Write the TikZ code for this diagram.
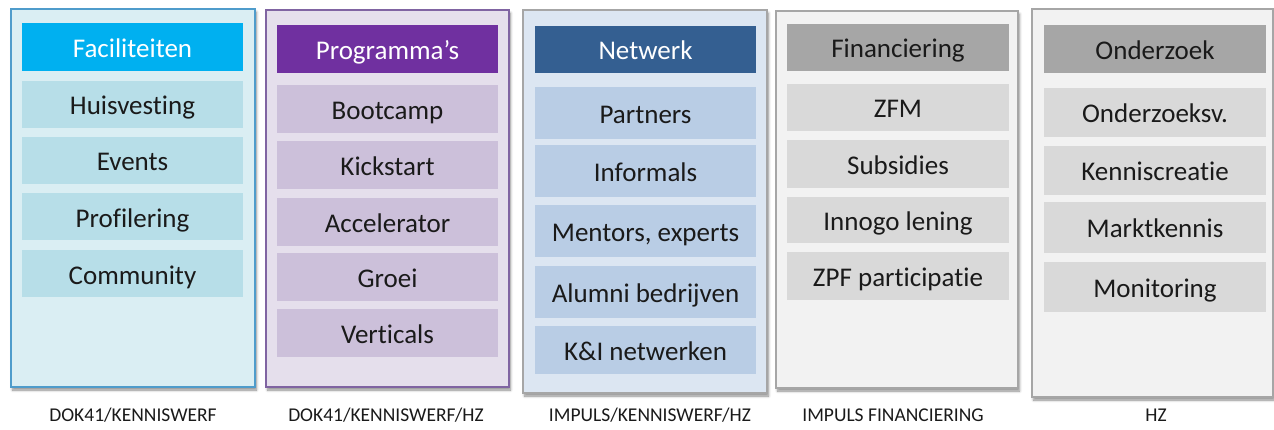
\documentclass[tikz,border=0pt]{standalone}
\usepackage{fontspec}
\setmainfont{Carlito}[Ligatures={NoCommon}]
\usetikzlibrary{shadows,shadows.blur}
\definecolor{c1bg}{HTML}{DAEEF3}
\definecolor{c1bd}{HTML}{4F9CCB}
\definecolor{c1hd}{HTML}{00B0F0}
\definecolor{c1it}{HTML}{B7DEE8}
\definecolor{c2bg}{HTML}{E5DFEC}
\definecolor{c2bd}{HTML}{8064A2}
\definecolor{c2hd}{HTML}{7030A0}
\definecolor{c2it}{HTML}{CCC0DA}
\definecolor{c3bg}{HTML}{DCE6F2}
\definecolor{c3hd}{HTML}{345F91}
\definecolor{c3it}{HTML}{B9CDE5}
\definecolor{c4bg}{HTML}{F2F2F2}
\definecolor{c4hd}{HTML}{A6A6A6}
\definecolor{c4it}{HTML}{D9D9D9}
\definecolor{gbd}{HTML}{A6A6A6}
\definecolor{txt}{HTML}{1A1A1A}
\tikzset{
  outerbox/.style={draw=#1, line width=1.5pt, inner sep=0pt,
    blur shadow={shadow xshift=1.5pt, shadow yshift=-3pt, shadow blur steps=6, shadow blur radius=2.5pt, shadow opacity=45}},
  headbox/.style={fill=#1, inner sep=0pt, minimum width=221pt, minimum height=48pt,
    text height=21pt, text depth=0pt, font=\fontsize{27}{30}\selectfont},
  itembox/.style={fill=#1, inner sep=0pt, minimum width=221pt, minimum height=47pt,
    text height=21pt, text depth=0pt, text=txt, font=\fontsize{27}{30}\selectfont},
  lbl/.style={text=txt, inner sep=0pt, font=\fontsize{19.5}{22}\selectfont},
}
\begin{document}
\begin{tikzpicture}[x=1pt,y=-1pt]
\useasboundingbox (0,0) rectangle (1274,430);
% column 1
\node[outerbox=c1bd, fill=c1bg, minimum width=244pt, minimum height=378pt] (o1) at (133,198) {};
\node[headbox=c1hd, text=white] (h1) at (132.5,47) {Faciliteiten};
\node[itembox=c1it] (a1) at (132.5,104.5) {Huisvesting};
\node[itembox=c1it] (a2) at (132.5,160.5) {Events};
\node[itembox=c1it] (a3) at (132.5,217) {Profilering};
\node[itembox=c1it] (a4) at (132.5,273.5) {Community};
\node[lbl] (l1) at (133,415) {DOK41/KENNISWERF};
% column 2
\node[outerbox=c2bd, fill=c2bg, minimum width=243pt, minimum height=377pt] (o2) at (387.5,198.5) {};
\node[headbox=c2hd, text=white] (h2) at (387.5,49) {Programma’s};
\node[itembox=c2it, minimum height=48pt] (b1) at (387.5,109) {Bootcamp};
\node[itembox=c2it, minimum height=48pt] (b2) at (387.5,165) {Kickstart};
\node[itembox=c2it, minimum height=48pt] (b3) at (387.5,222) {Accelerator};
\node[itembox=c2it, minimum height=48pt] (b4) at (387.5,277) {Groei};
\node[itembox=c2it, minimum height=48pt] (b5) at (387.5,332.5) {Verticals};
\node[lbl] (l2) at (386,415) {DOK41/KENNISWERF/HZ};
% column 3
\node[outerbox=gbd, fill=c3bg, minimum width=244pt, minimum height=383pt] (o3) at (645,201.5) {};
\node[headbox=c3hd, text=white, minimum height=47pt] (h3) at (645.5,49.5) {Netwerk};
\node[itembox=c3it, minimum height=52pt] (c1) at (645.5,113) {Partners};
\node[itembox=c3it, minimum height=52pt] (c2) at (645.5,171) {Informals};
\node[itembox=c3it, minimum height=52pt] (c3) at (645.5,231) {Mentors, experts};
\node[itembox=c3it, minimum height=52pt] (c4) at (645.5,292) {Alumni bedrijven};
\node[itembox=c3it, minimum height=48pt] (c5) at (645.5,349.5) {K\&I netwerken};
\node[lbl] (l3) at (650,415) {IMPULS/KENNISWERF/HZ};
% column 4
\node[outerbox=gbd, fill=c4bg, minimum width=242pt, minimum height=377pt] (o4) at (897,199.5) {};
\node[headbox=c4hd, text=txt, minimum width=222pt, minimum height=47pt] (h4) at (898,47.5) {Financiering};
\node[itembox=c4it, minimum width=222pt] (d1) at (898,107.5) {ZFM};
\node[itembox=c4it, minimum width=222pt, minimum height=48pt] (d2) at (898,164) {Subsidies};
\node[itembox=c4it, minimum width=222pt, minimum height=46pt] (d3) at (898,220) {Innogo lening};
\node[itembox=c4it, minimum width=222pt, minimum height=48pt] (d4) at (898,276) {ZPF participatie};
\node[lbl] (l4) at (893,415) {IMPULS FINANCIERING};
% column 5
\node[outerbox=gbd, fill=c4bg, minimum width=241pt, minimum height=388pt] (o5) at (1152.5,203) {};
\node[headbox=c4hd, text=txt, minimum width=222pt] (h5) at (1155,49) {Onderzoek};
\node[itembox=c4it, minimum width=222pt, minimum height=49pt] (e1) at (1155,112.5) {Onderzoeksv.};
\node[itembox=c4it, minimum width=222pt, minimum height=49pt] (e2) at (1155,170.5) {Kenniscreatie};
\node[itembox=c4it, minimum width=222pt, minimum height=51pt] (e3) at (1155,227.5) {Marktkennis};
\node[itembox=c4it, minimum width=222pt, minimum height=50pt] (e4) at (1155,287) {Monitoring};
\node[lbl] (l5) at (1156,415) {HZ};
\end{tikzpicture}
\end{document}
